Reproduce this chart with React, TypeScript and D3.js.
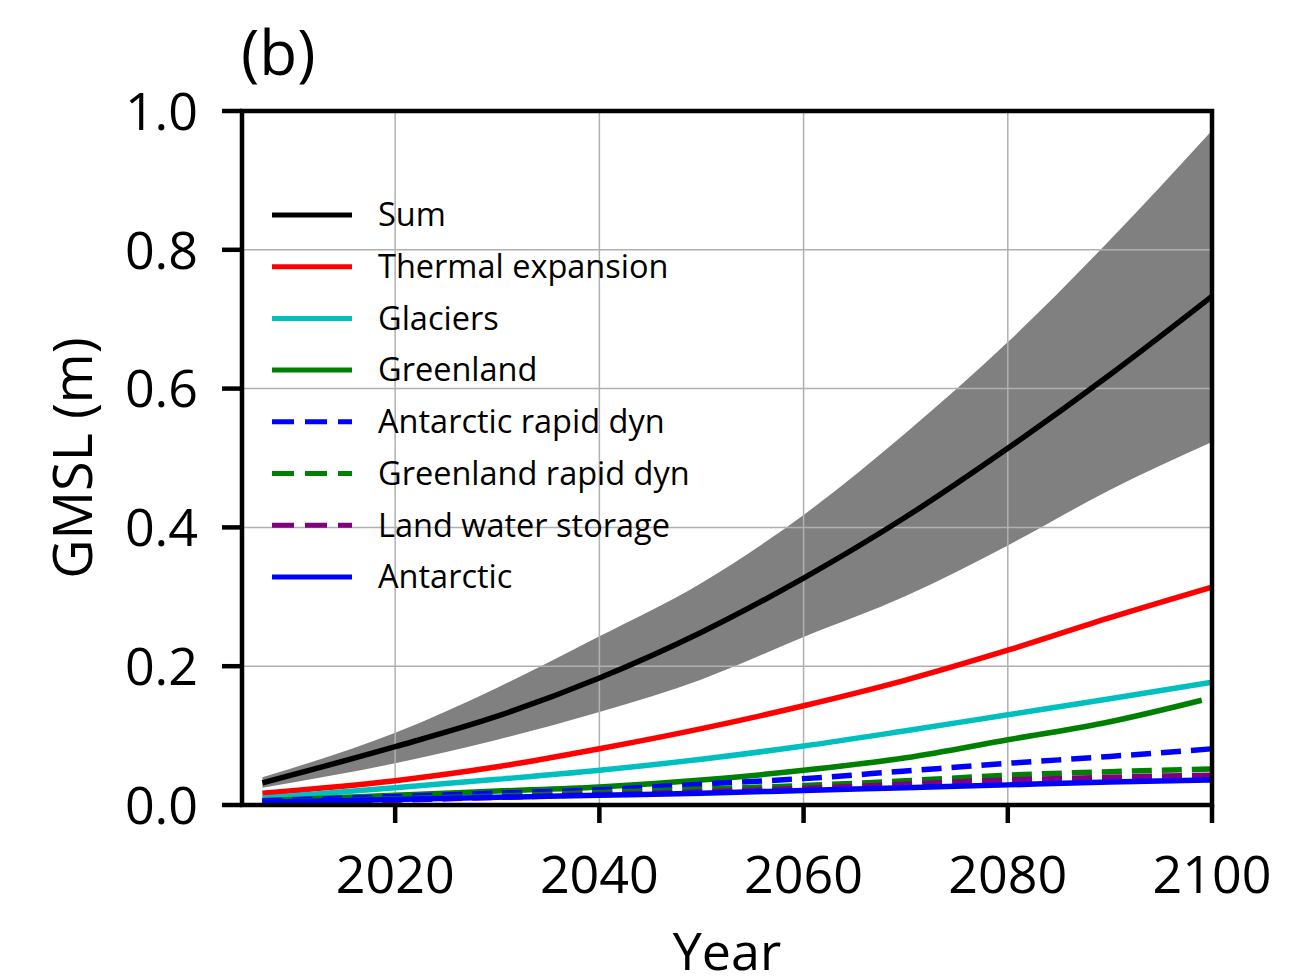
import { useEffect } from "react";
import * as d3 from "d3";

// ── Data ────────────────────────────────────────────────────────────────
const years = [2007, 2020, 2030, 2040, 2050, 2060, 2070, 2080, 2090, 2100];
const greenlandYears = [2007, 2020, 2030, 2040, 2050, 2060, 2070, 2080, 2090, 2099];

const sumValues = [0.032, 0.084, 0.128, 0.183, 0.249, 0.327, 0.415, 0.514, 0.62, 0.733];
const sumUpper = [0.04, 0.104, 0.169, 0.243, 0.32, 0.418, 0.536, 0.667, 0.814, 0.972];
const sumLower = [0.025, 0.06, 0.094, 0.134, 0.181, 0.242, 0.301, 0.374, 0.454, 0.523];
const thermal = [0.017, 0.035, 0.055, 0.081, 0.11, 0.143, 0.18, 0.223, 0.27, 0.314];
const glaciers = [0.01, 0.025, 0.037, 0.05, 0.066, 0.085, 0.107, 0.13, 0.153, 0.177];
const greenland = [0.006, 0.014, 0.02, 0.026, 0.036, 0.05, 0.068, 0.094, 0.12, 0.151];
const antarcticRapid = [0.006, 0.012, 0.017, 0.022, 0.03, 0.038, 0.049, 0.06, 0.07, 0.081];
const greenlandRapid = [0.004, 0.009, 0.013, 0.018, 0.023, 0.028, 0.035, 0.043, 0.048, 0.052];
const landWater = [0.003, 0.007, 0.011, 0.015, 0.019, 0.024, 0.03, 0.036, 0.04, 0.043];
const antarctic = [0.004, 0.008, 0.011, 0.014, 0.017, 0.021, 0.025, 0.029, 0.033, 0.036];

const xTicks = [2020, 2040, 2060, 2080, 2100];
const yTicks = [0, 0.2, 0.4, 0.6, 0.8, 1.0];

type Series = { name: string; color: string; dashed: boolean; x: number[]; y: number[] };

const series: Series[] = [
  { name: "Sum", color: "#000000", dashed: false, x: years, y: sumValues },
  { name: "Thermal expansion", color: "#ff0000", dashed: false, x: years, y: thermal },
  { name: "Glaciers", color: "#00bfbf", dashed: false, x: years, y: glaciers },
  { name: "Greenland", color: "#008000", dashed: false, x: greenlandYears, y: greenland },
  { name: "Antarctic rapid dyn", color: "#0000ff", dashed: true, x: years, y: antarcticRapid },
  { name: "Greenland rapid dyn", color: "#008000", dashed: true, x: years, y: greenlandRapid },
  { name: "Land water storage", color: "#800080", dashed: true, x: years, y: landWater },
  { name: "Antarctic", color: "#0000ff", dashed: false, x: years, y: antarctic },
];

const W = 1290;
const H = 976;
const PLOT = { left: 242, right: 1212, top: 111, bottom: 805 };
const FONT = "'Open Sans', 'Noto Sans', sans-serif";

export default function App() {
  useEffect(() => {
    document.body.style.margin = "0";
  }, []);

  const x = d3.scaleLinear().domain([2005, 2100]).range([PLOT.left, PLOT.right]);
  const y = d3.scaleLinear().domain([0, 1]).range([PLOT.bottom, PLOT.top]);

  const line = d3
    .line<[number, number]>()
    .x((d) => x(d[0]))
    .y((d) => y(d[1]))
    .curve(d3.curveMonotoneX);

  const band = d3
    .area<number>()
    .x((_, i) => x(years[i]))
    .y0((_, i) => y(sumLower[i]))
    .y1((_, i) => y(sumUpper[i]))
    .curve(d3.curveMonotoneX);

  const legendX = 272;
  const legendY0 = 215;
  const legendStep = 51.7;

  return (
    <svg width={W} height={H} style={{ display: "block", background: "#fff" }}>
      <defs>
        <clipPath id="plot-clip">
          <rect
            x={PLOT.left}
            y={PLOT.top}
            width={PLOT.right - PLOT.left}
            height={PLOT.bottom - PLOT.top}
          />
        </clipPath>
      </defs>

      {/* uncertainty band */}
      <path d={band(sumValues) ?? ""} fill="#808080" clipPath="url(#plot-clip)" />

      {/* grid — above fill, below lines */}
      <g stroke="#b0b0b0" strokeWidth={1.5}>
        {xTicks.map((t) => (
          <line key={`gx${t}`} x1={x(t)} x2={x(t)} y1={PLOT.top} y2={PLOT.bottom} />
        ))}
        {yTicks.map((t) => (
          <line key={`gy${t}`} x1={PLOT.left} x2={PLOT.right} y1={y(t)} y2={y(t)} />
        ))}
      </g>

      {/* component lines */}
      <g fill="none" strokeWidth={5.5} clipPath="url(#plot-clip)">
        {series.map((s) => (
          <path
            key={s.name}
            d={line(s.x.map((v, i) => [v, s.y[i]] as [number, number])) ?? ""}
            stroke={s.color}
            strokeDasharray={s.dashed ? "20,10" : undefined}
          />
        ))}
      </g>

      {/* legend */}
      <g fontFamily={FONT} fontSize={32.5}>
        {series.map((s, i) => {
          const ly = legendY0 + i * legendStep;
          return (
            <g key={`lg${s.name}`}>
              <line
                x1={legendX}
                x2={legendX + 80}
                y1={ly}
                y2={ly}
                stroke={s.color}
                strokeWidth={5}
                strokeDasharray={s.dashed ? "22,11" : undefined}
              />
              <text x={legendX + 106} y={ly} dy="0.35em" fill="#000">
                {s.name}
              </text>
            </g>
          );
        })}
      </g>

      {/* spines */}
      <rect
        x={PLOT.left}
        y={PLOT.top}
        width={PLOT.right - PLOT.left}
        height={PLOT.bottom - PLOT.top}
        fill="none"
        stroke="#000"
        strokeWidth={4.5}
      />

      {/* y ticks */}
      <g fontFamily={FONT} fontSize={52}>
        {yTicks.map((t) => (
          <g key={`yt${t}`}>
            <line x1={PLOT.left - 20} x2={PLOT.left} y1={y(t)} y2={y(t)} stroke="#000" strokeWidth={4.5} />
            <text x={PLOT.left - 44} y={y(t)} dy="0.36em" textAnchor="end">
              {d3.format(".1f")(t)}
            </text>
          </g>
        ))}
      </g>

      {/* x ticks */}
      <g fontFamily={FONT} fontSize={52}>
        {xTicks.map((t) => (
          <g key={`xt${t}`}>
            <line x1={x(t)} x2={x(t)} y1={PLOT.bottom} y2={PLOT.bottom + 18} stroke="#000" strokeWidth={4.5} />
            <text x={x(t)} y={893} textAnchor="middle">
              {t}
            </text>
          </g>
        ))}
      </g>

      {/* axis labels */}
      <text
        x={(PLOT.left + PLOT.right) / 2}
        y={970}
        textAnchor="middle"
        fontFamily={FONT}
        fontSize={52}
      >
        Year
      </text>
      <text
        transform={`translate(92, ${(PLOT.top + PLOT.bottom) / 2}) rotate(-90)`}
        textAnchor="middle"
        fontFamily={FONT}
        fontSize={54}
      >
        GMSL (m)
      </text>

      {/* panel label */}
      <text x={241} y={75} fontFamily={FONT} fontSize={62}>
        (b)
      </text>
    </svg>
  );
}
